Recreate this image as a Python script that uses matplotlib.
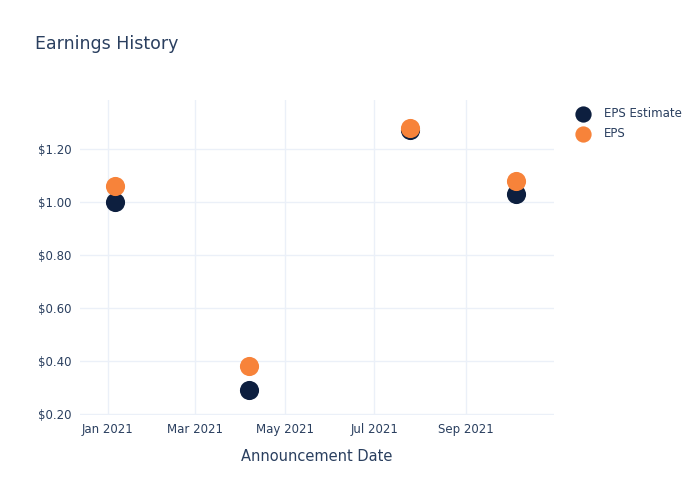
import matplotlib
matplotlib.use("Agg")
import matplotlib.pyplot as plt
import matplotlib.dates as mdates
import numpy as np
from datetime import datetime

dates = ["2021-01-06", "2021-04-07", "2021-07-25", "2021-10-05"]
eps_estimate = [1.00, 0.29, 1.27, 1.03]
eps_actual = [1.06, 0.38, 1.28, 1.08]
y_ticks = [0.20, 0.40, 0.60, 0.80, 1.00, 1.20]
x_ticks = ["2021-01-01", "2021-03-01", "2021-05-01", "2021-07-01", "2021-09-01"]

text_color = "#2a3f5f"
grid_color = "#ebf0f8"
navy = "#0d1f3f"
orange = "#f7833a"

x = [datetime.strptime(d, "%Y-%m-%d") for d in dates]
xt = [datetime.strptime(d, "%Y-%m-%d") for d in x_ticks]

fig = plt.figure(figsize=(7, 5), dpi=100)
ax = fig.add_axes([80/700, 85/500, (554-80)/700, (415-100)/500])

ax.scatter(x, eps_estimate, s=190, color=navy, label="EPS Estimate", zorder=3, linewidths=0)
ax.scatter(x, eps_actual, s=190, color=orange, label="EPS", zorder=4, linewidths=0)

ax.set_xlim(datetime(2020, 12, 13), datetime(2021, 10, 31))
ax.set_ylim(0.195, 1.385)
ax.set_yticks(y_ticks)
ax.set_yticklabels([f"${v:.2f}" for v in y_ticks])
ax.set_xticks(xt)
ax.xaxis.set_major_formatter(mdates.DateFormatter("%b %Y"))

ax.grid(True, color=grid_color, linewidth=1)
ax.set_axisbelow(True)
for s in ax.spines.values():
    s.set_visible(False)
ax.tick_params(length=0, labelsize=8.5, colors=text_color, pad=6)
ax.set_xlabel("Announcement Date", fontsize=10.5, color=text_color, labelpad=9)

fig.text(35/700, 1 - 44/500, "Earnings History", fontsize=12.5, color=text_color, va="center", ha="left")

leg = ax.legend(loc="upper left", bbox_to_anchor=(561/700, 1 - 96/500), bbox_transform=fig.transFigure,
                frameon=False, fontsize=8.5, labelcolor=text_color, handletextpad=0.7,
                labelspacing=0.62, markerscale=0.85)

fig.savefig("out.png", dpi=100, facecolor="white")
